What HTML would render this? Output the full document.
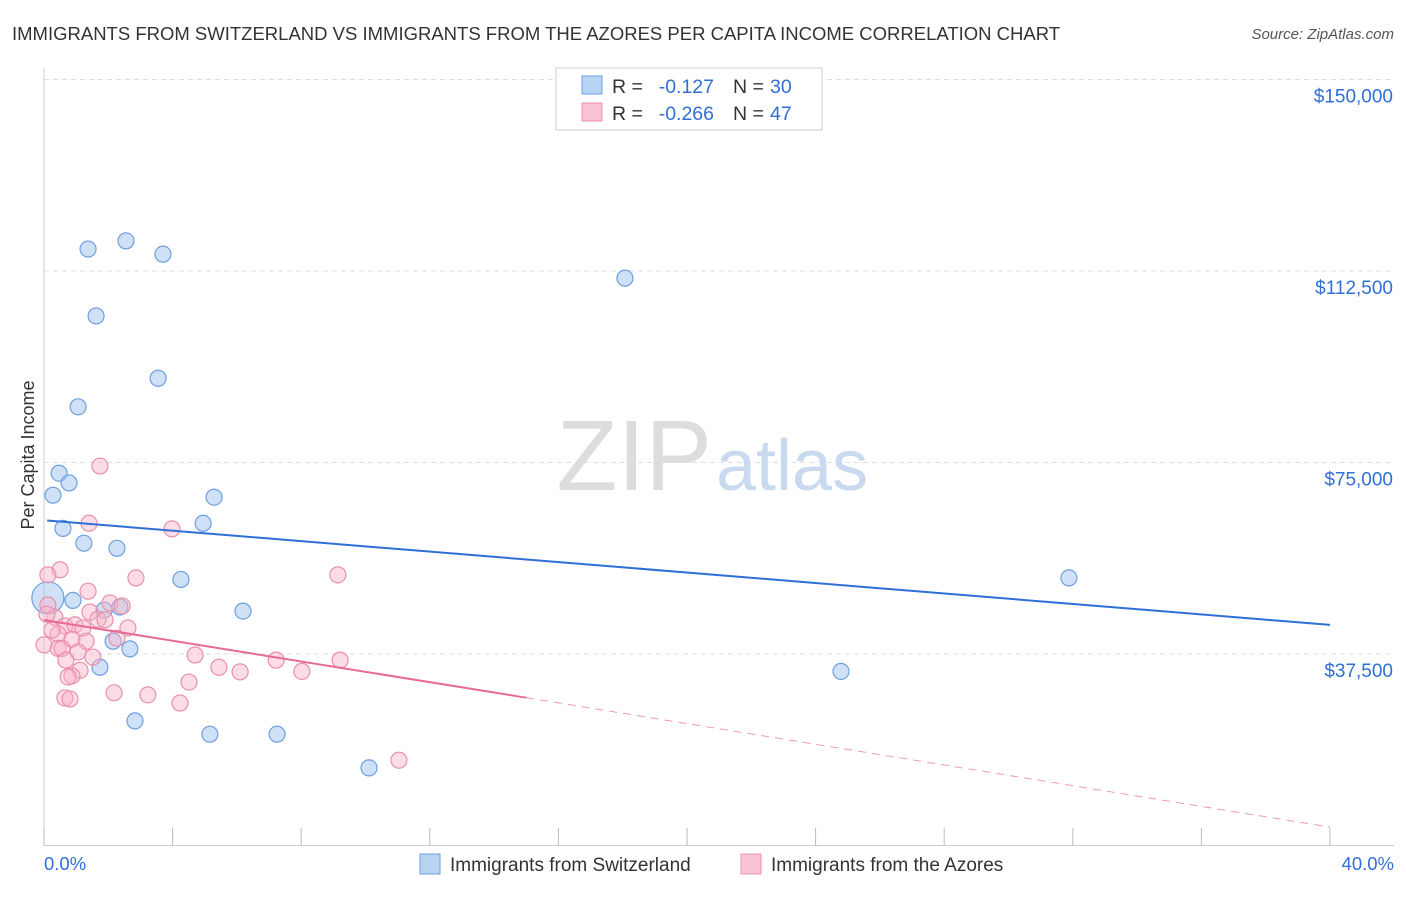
<!DOCTYPE html>
<html><head><meta charset="utf-8"><style>
body{margin:0;background:#fff;font-family:"Liberation Sans",sans-serif;}
svg text{font-family:"Liberation Sans",sans-serif;}
</style></head><body>
<svg id="chart" width="1406" height="892">
<text x="12" y="40" font-size="18.5" fill="#333">IMMIGRANTS FROM SWITZERLAND VS IMMIGRANTS FROM THE AZORES PER CAPITA INCOME CORRELATION CHART</text>
<text x="1394" y="39" font-size="15" fill="#555" font-style="italic" text-anchor="end">Source: ZipAtlas.com</text>
<g id="grid"></g>
<text x="712" y="490" font-size="100" fill="#ddd" font-family="Liberation Serif" text-anchor="end">ZIP</text>
<text x="716" y="490" font-size="72" fill="#c9daf0">atlas</text>
<text transform="translate(34,455) rotate(-90)" font-size="18" fill="#333" text-anchor="middle">Per Capita Income</text>
<g id="marks"></g>
<g>
<rect x="556" y="68" width="266" height="62" fill="#fff" stroke="#ccc"/>
<rect x="582" y="76" width="20" height="18" fill="#b8d4f5" stroke="#6d9fe0"/>
<rect x="582" y="103" width="20" height="18" fill="#f9c4d4" stroke="#ea8fab"/>
<text x="612" y="93" font-size="19.5" fill="#333">R =</text>
<text x="714" y="93" font-size="19.5" fill="#2f6fd6" text-anchor="end">-0.127</text>
<text x="733" y="93" font-size="19.5" fill="#333">N =</text>
<text x="770" y="93" font-size="19.5" fill="#2f6fd6">30</text>
<text x="612" y="120" font-size="19.5" fill="#333">R =</text>
<text x="714" y="120" font-size="19.5" fill="#2f6fd6" text-anchor="end">-0.266</text>
<text x="733" y="120" font-size="19.5" fill="#333">N =</text>
<text x="770" y="120" font-size="19.5" fill="#2f6fd6">47</text>
</g>
<g>
<rect x="420" y="854" width="20" height="20" fill="#b8d4f5" stroke="#6d9fe0"/>
<text x="450" y="871" font-size="19" fill="#333">Immigrants from Switzerland</text>
<rect x="741" y="854" width="20" height="20" fill="#f9c4d4" stroke="#ea8fab"/>
<text x="771" y="871" font-size="19" fill="#333">Immigrants from the Azores</text>
</g>
<text x="44" y="870" font-size="18.5" fill="#2f6fd6">0.0%</text>
<text x="1394" y="870" font-size="18.5" fill="#2f6fd6" text-anchor="end">40.0%</text>
</svg>
<script>
const yTicks=[37500,75000,112500,150000];
const yTickLabels=["$37,500","$75,000","$112,500","$150,000"];
const blueX=[1.37,2.55,3.70,1.62,18.07,3.55,1.06,0.47,0.78,0.28,5.29,4.95,0.59,1.24,2.27,4.26,31.88,0.90,1.87,2.36,6.19,2.15,2.67,1.74,24.79,2.83,5.16,7.25,10.11,0.12];
const blueY=[116800,118400,115800,103700,111100,91500,85900,72900,71000,68600,68200,63100,62100,59200,58200,52100,52400,48000,46100,46700,45900,40000,38500,34900,34100,24400,21800,21800,15200,48500];
const pinkX=[1.74,1.40,3.98,0.50,0.12,2.86,9.14,1.37,0.12,2.05,2.43,1.43,1.68,0.34,0.65,0.96,2.61,0.44,0.87,2.27,1.31,0.44,0.56,1.06,1.52,4.70,7.22,9.21,5.44,8.02,1.12,0.87,0.75,2.18,3.23,4.51,0.65,0.81,4.23,11.04,0.09,0.25,0.0,1.90,1.21,0.68,6.10];
const pinkY=[74300,63100,62000,54000,53000,52400,53000,49800,47100,47500,46900,45700,44300,44700,43000,43200,42600,41400,40400,40600,40000,38600,38600,37900,36900,37300,36300,36300,34900,34100,34300,33200,33000,29900,29500,32000,28900,28700,27900,16700,45300,42200,39300,44200,42600,36300,34000];
const blueTrend=[63700,43200];
const pinkTrend=[44150,3600];
const pinkSolidEnd=15;
const NS="http://www.w3.org/2000/svg";
const X=v=>44+v/40*1286;
const Y=v=>845.5-v/37500*191.5;
function mk(tag,attrs,parent){const e=document.createElementNS(NS,tag);for(const k in attrs)e.setAttribute(k,attrs[k]);parent.appendChild(e);return e;}
const grid=document.getElementById('grid');
const marks=document.getElementById('marks');
yTicks.forEach((t,i)=>{
 const l=mk('line',{x1:44,x2:1394,y1:Y(t),y2:Y(t),stroke:'#ddd','stroke-dasharray':'5,4'},grid);
 
 
 const tx=mk('text',{x:1393,y:Y(t)+23,'font-size':19,fill:'#2f6fd6','text-anchor':'end'},grid);
 tx.textContent=yTickLabels[i];
 
 
});
const ax=mk('line',{x1:44,x2:1394,y1:845.5,y2:845.5,stroke:'#ccc'},grid);


const ay=mk('line',{x1:44,x2:44,y1:68,y2:845.5,stroke:'#ccc'},grid);


for(let i=0;i<=10;i++){
 const t=mk('line',{x1:X(i*4),x2:X(i*4),y1:828,y2:845.5,stroke:'#bbb'},grid);
 
 
}
blueX.forEach((v,i)=>{
 const c=mk('circle',{cx:X(v),cy:Y(blueY[i]),r:i==blueX.length-1?16:8,fill:'rgba(160,195,240,0.5)',stroke:'#6d9fe0','stroke-width':1.2},marks);
 
 
});
pinkX.forEach((v,i)=>{
 const c=mk('circle',{cx:X(v),cy:Y(pinkY[i]),r:8,fill:'rgba(248,180,200,0.45)',stroke:'#ea8fab','stroke-width':1.2},marks);
 
 
});
const bt=mk('line',{x1:X(0.1),y1:Y(blueTrend[0]+(blueTrend[1]-blueTrend[0])*0.1/40),x2:X(40),y2:Y(blueTrend[1]),stroke:'#2f6fd6','stroke-width':2},marks);


const pm=pinkTrend[0]+(pinkTrend[1]-pinkTrend[0])*pinkSolidEnd/40;
const ps=mk('line',{x1:X(0),y1:Y(pinkTrend[0]),x2:X(pinkSolidEnd),y2:Y(pm),stroke:'#e86a93','stroke-width':2},marks);


const pd=mk('line',{x1:X(pinkSolidEnd),y1:Y(pm),x2:X(40),y2:Y(pinkTrend[1]),stroke:'#ee9ab5','stroke-width':1,'stroke-dasharray':'8,6'},marks);


</script>
</body></html>
